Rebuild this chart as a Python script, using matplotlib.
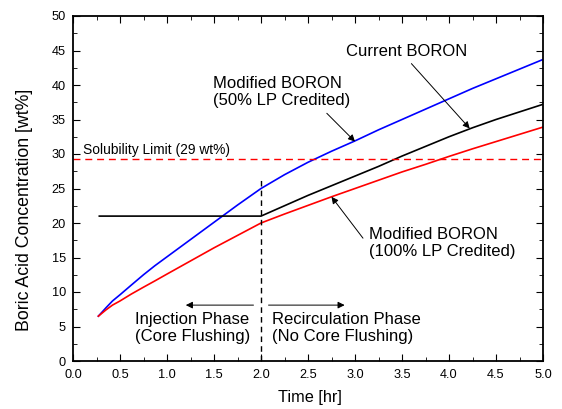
import matplotlib
matplotlib.use("Agg")
import matplotlib.pyplot as plt
from matplotlib.ticker import MultipleLocator, FormatStrFormatter

plt.rcParams['font.family'] = ['Liberation Sans', 'DejaVu Sans']

# time points [hr]
t = [0.27, 0.31, 0.35, 0.42, 0.5, 0.62, 0.75, 0.87, 1.0, 1.25, 1.5, 1.75, 2.0,
     2.25, 2.5, 2.75, 3.0, 3.25, 3.5, 3.75, 4.0, 4.25, 4.5, 4.75, 5.0]
# Modified BORON (50% LP credited)
blue = [6.5, 7.1, 7.7, 8.7, 9.6, 11.0, 12.5, 13.8, 15.1, 17.6, 20.1, 22.6, 25.0,
        27.0, 28.8, 30.4, 31.9, 33.5, 35.0, 36.5, 38.0, 39.5, 40.9, 42.3, 43.7]
# Modified BORON (100% LP credited)
red = [6.5, 6.95, 7.4, 8.1, 8.7, 9.7, 10.7, 11.6, 12.6, 14.5, 16.4, 18.2, 20.0,
       21.3, 22.55, 23.8, 25.0, 26.2, 27.4, 28.5, 29.65, 30.75, 31.8, 32.85, 33.9]
# Current BORON
t_cur = [0.28, 2.0, 2.25, 2.5, 2.75, 3.0, 3.25, 3.5, 3.75, 4.0, 4.25, 4.5, 4.75, 5.0]
black = [21.0, 21.0, 22.5, 24.0, 25.4, 26.8, 28.2, 29.7, 31.1, 32.5, 33.8, 35.0, 36.1, 37.2]

sol_limit = 29.3

fig = plt.figure(figsize=(5.62, 4.09), dpi=100)
ax = fig.add_axes([73/562, 48/409, 470/562, 345/409])

ax.plot(t, blue, color='blue', lw=1.2)
ax.plot(t, red, color='red', lw=1.2)
ax.plot(t_cur, black, color='black', lw=1.2)
ax.axhline(sol_limit, color='red', ls=(0, (5, 3.5)), lw=1.0)
ax.plot([2.0, 2.0], [0, 26.2], color='black', ls=(0, (4, 3)), lw=1.0)

ax.text(0.103, 30.6, 'Solubility Limit (29 wt%)', fontsize=9.9, va='center')

ax.set_xlim(0, 5)
ax.set_ylim(0, 50)
ax.xaxis.set_major_locator(MultipleLocator(0.5))
ax.xaxis.set_minor_locator(MultipleLocator(0.25))
ax.yaxis.set_major_locator(MultipleLocator(5))
ax.yaxis.set_minor_locator(MultipleLocator(2.5))
ax.xaxis.set_major_formatter(FormatStrFormatter('%.1f'))
ax.tick_params(which='both', direction='in', top=True, right=True, labelsize=9.2)
ax.tick_params(which='major', length=5)
ax.tick_params(which='minor', length=3)
ax.tick_params(axis='x', pad=6)
ax.tick_params(axis='y', pad=5)
for s in ax.spines.values():
    s.set_linewidth(1.3)

ax.set_xlabel('Time [hr]', fontsize=11.7, va='center')
ax.xaxis.set_label_coords(0.505, -0.107)
ax.set_ylabel('Boric Acid Concentration [wt%]', fontsize=12.8)
ax.yaxis.set_label_coords(-40/470, 0.438)

arr = dict(arrowstyle='-|>', color='black', lw=0.7, mutation_scale=10, shrinkA=0, shrinkB=0)
ax.text(3.55, 44.8, 'Current BORON', fontsize=12, ha='center', va='center')
ax.annotate('', xy=(4.22, 33.7), xytext=(3.6, 43.1), arrowprops=arr)
ax.text(1.49, 39.0, 'Modified BORON\n(50% LP Credited)', fontsize=12, ha='left',
        va='center', linespacing=1.15)
ax.annotate('', xy=(3.0, 31.8), xytext=(2.7, 35.9), arrowprops=arr)
ax.text(3.15, 17.1, 'Modified BORON\n(100% LP Credited)', fontsize=12, ha='left',
        va='center', linespacing=1.15)
ax.annotate('', xy=(2.75, 23.8), xytext=(3.085, 17.8), arrowprops=arr)

ax.annotate('', xy=(1.2, 8.1), xytext=(1.92, 8.1), arrowprops=arr)
ax.annotate('', xy=(2.89, 8.1), xytext=(2.08, 8.1), arrowprops=arr)
ax.text(1.27, 4.8, 'Injection Phase\n(Core Flushing)', fontsize=12, ha='center',
        va='center', linespacing=1.15)
ax.text(2.12, 4.8, 'Recirculation Phase\n(No Core Flushing)', fontsize=12, ha='left',
        va='center', linespacing=1.15)

fig.savefig('out.png', dpi=100)
